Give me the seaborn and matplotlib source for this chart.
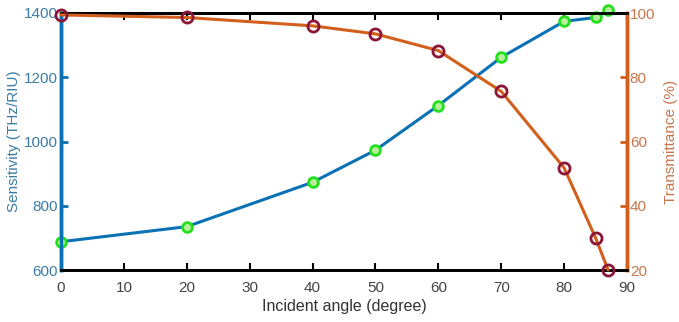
import matplotlib
matplotlib.use("Agg")
import matplotlib.pyplot as plt
import seaborn as sns
import pandas as pd

angles = [0, 20, 40, 50, 60, 70, 80, 85, 87]
sensitivity = [688, 735, 873, 973, 1112, 1262, 1374, 1386, 1408]
transmittance = [99.4, 98.6, 96.0, 93.5, 88.3, 75.6, 51.8, 30.0, 20.0]

xticks = list(range(0, 91, 10))
left_ticks = [600, 800, 1000, 1200, 1400]
right_ticks = [20, 40, 60, 80, 100]

sns.set_style("white")
plt.rcParams['font.family'] = ['Liberation Sans', 'DejaVu Sans']

df = pd.DataFrame({"angle": angles, "sens": sensitivity, "trans": transmittance})

blue = "#0a72b4"
orange = "#d35f1c"
fig = plt.figure(figsize=(6.79, 3.22), dpi=100)
ax = fig.add_axes([61/679, 1 - 270/322, (627-61)/679, (270-13)/322])
ax2 = ax.twinx()

sns.lineplot(data=df, x="angle", y="sens", ax=ax, color=blue, linewidth=2.2,
             marker="o", markersize=7, markerfacecolor="#b8f0a0",
             markeredgecolor="#22e01c", markeredgewidth=2, clip_on=False, zorder=5)
sns.lineplot(data=df, x="angle", y="trans", ax=ax2, color=orange, linewidth=2.2,
             marker="o", markersize=8, markerfacecolor="none",
             markeredgecolor="#8c1538", markeredgewidth=2, clip_on=False, zorder=5)

ax.set_xlim(0, 90)
ax.set_ylim(600, 1400)
ax2.set_ylim(20, 100)
ax.set_xticks(xticks)
ax.set_yticks(left_ticks)
ax2.set_yticks(right_ticks)

ax.set_xlabel("Incident angle (degree)", fontsize=11.5, color="#333333", labelpad=3)
ax.set_ylabel("Sensitivity (THz/RIU)", fontsize=11, color="#3a7ca5", labelpad=2)
ax2.set_ylabel("Transmittance (%)", fontsize=11, color="#c8764a", labelpad=6)

ax.tick_params(axis="x", direction="in", length=5, width=1.5, colors="black",
               labelcolor="#444444", labelsize=11, pad=8, top=True, bottom=True)
ax.tick_params(axis="y", direction="in", length=5, width=2, colors=blue,
               labelcolor="#3a7ca5", labelsize=11, pad=2)
ax2.tick_params(axis="y", direction="in", length=5, width=2, colors=orange,
                labelcolor="#c8764a", labelsize=11, pad=2)

for a in (ax, ax2):
    a.spines["top"].set_color("black")
    a.spines["bottom"].set_color("black")
    a.spines["top"].set_linewidth(2)
    a.spines["bottom"].set_linewidth(2)
    a.spines["left"].set_color(blue)
    a.spines["left"].set_linewidth(2.5)
    a.spines["right"].set_color(orange)
    a.spines["right"].set_linewidth(2.5)
ax.grid(False)
ax2.grid(False)

fig.savefig("out.png", dpi=100)
